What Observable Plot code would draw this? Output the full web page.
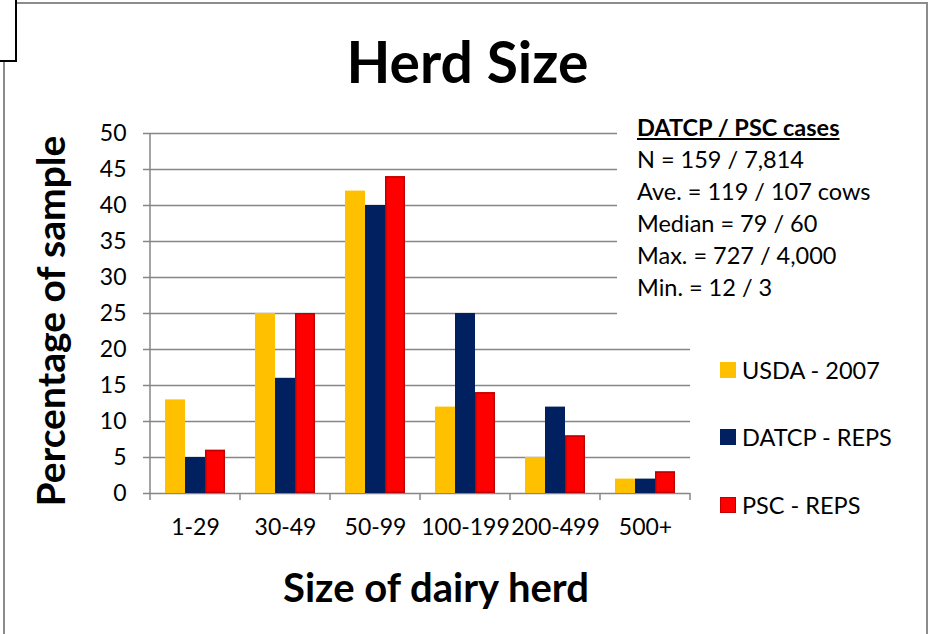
<!DOCTYPE html>
<html>
<head>
<meta charset="utf-8">
<script src="https://cdn.jsdelivr.net/npm/d3@7"></script>
<script src="https://cdn.jsdelivr.net/npm/@observablehq/plot@0.6"></script>
<style>
  html, body { margin: 0; padding: 0; background: #fff; }
  #wrap { position: relative; width: 931px; height: 634px; overflow: hidden; font-family: Lato, "Open Sans", sans-serif; color: #000; }
  #wrap svg { position: absolute; left: 0; top: 0; }
  .abs { position: absolute; white-space: nowrap; }
  #border { position: absolute; left: 3px; top: 2px; width: 925px; height: 640px; border: 2px solid #8c8c8c; box-sizing: border-box; }
  #corner { position: absolute; left: -2px; top: -2px; width: 19px; height: 64px; border: 2px solid #000; background: #fff; box-sizing: border-box; }
  #title { left: 0; width: 935px; top: 33px; text-align: center; font-weight: 700; font-size: 57px; line-height: 1; }
  #ylab { left: 50px; top: 321px; transform: translate(-50%, -50%) rotate(-90deg); font-weight: 700; font-size: 39px; }
  #xlab { left: 436px; top: 587px; transform: translate(-50%, -50%); font-weight: 700; font-size: 40px; }
  #note { left: 617px; top: 111px; width: 295px; height: 209px; background: #fff; padding-left: 20px; box-sizing: border-box; font-size: 23.5px; line-height: 32px; }
  #note .h { font-weight: 700; text-decoration: underline; }
  #legend { left: 720px; top: 336px; font-size: 23.5px; }
  .item { display: flex; align-items: center; height: 67.5px; }
  .sw { width: 16px; height: 16px; margin-right: 6px; box-sizing: border-box; }
</style>
</head>
<body>
<div id="wrap">
  <div id="border"></div>
  <div id="corner"></div>
  <div id="chart"></div>
  <div class="abs" id="title">Herd Size</div>
  <div class="abs" id="ylab">Percentage of sample</div>
  <div class="abs" id="xlab">Size of dairy herd</div>
  <div class="abs" id="note"></div>
  <div class="abs" id="legend"></div>
</div>
<script>
// ---- data ----
const categories = ["1-29", "30-49", "50-99", "100-199", "200-499", "500+"];
const seriesNames = ["USDA - 2007", "DATCP - REPS", "PSC - REPS"];
const usda  = [13, 25, 42, 12, 5, 2];
const datcp = [5, 16, 40, 25, 12, 2];
const psc   = [6, 25, 44, 14, 8, 3];
const colors = ["#FFC000", "#002060", "#FF0000"];
const yTicks = [0, 5, 10, 15, 20, 25, 30, 35, 40, 45, 50];
const noteTitle = "DATCP / PSC cases";
const noteLines = ["N = 159 / 7,814", "Ave. = 119 / 107 cows", "Median = 79 / 60", "Max. = 727 / 4,000", "Min. = 12 / 3"];

const seriesValues = [usda, datcp, psc];
const rows = [];
categories.forEach((c, i) => seriesNames.forEach((s, j) => rows.push({cat: c, series: s, value: seriesValues[j][i]})));
const cats = categories.map((c, i) => ({cat: c, i}));

const axisGray = "#868686";

const boundaryTicks = Plot.ruleY(cats, {
  fx: "cat", y: () => 0,
  render(index, scales, values, dimensions) {
    const g = d3.create("svg:g").attr("stroke", axisGray).attr("stroke-width", 1.5);
    if (!index.length) return g.node();
    const [r0, r1] = scales.x.range();
    const y0 = scales.y(0), yTop = scales.y(50);
    for (const i of index) {
      g.append("line").attr("x1", r0).attr("x2", r0).attr("y1", y0).attr("y2", y0 + 7);
      if (i === cats.length - 1) g.append("line").attr("x1", r1).attr("x2", r1).attr("y1", y0).attr("y2", y0 + 7);
      if (i === 0) g.append("line").attr("x1", r0).attr("x2", r0).attr("y1", y0).attr("y2", yTop);
    }
    return g.node();
  }
});

const plot = Plot.plot({
  width: 931,
  height: 634,
  marginLeft: 148,
  marginRight: 239,
  marginTop: 133,
  marginBottom: 141,
  style: {fontFamily: "Lato, 'Open Sans', sans-serif", fontSize: "23px", color: "#000", background: "transparent", overflow: "visible"},
  fx: {domain: categories, padding: 0, label: null, axis: "bottom", tickSize: 0, tickPadding: 25},
  x: {domain: seriesNames, paddingInner: 0, paddingOuter: 0.75, axis: null},
  y: {domain: [0, 50], ticks: yTicks, label: null, tickSize: 7, tickPadding: 17},
  color: {domain: seriesNames, range: colors},
  marks: [
    Plot.ruleY(yTicks, {stroke: axisGray, strokeWidth: 1.5}),
    Plot.barY(rows, {fx: "cat", x: "series", y: "value", fill: "series"}),
    Plot.barY(rows.filter(d => d.series === "PSC - REPS"), {fx: "cat", x: "series", y: "value", fill: "none", stroke: "#C00000", strokeWidth: 1.5, inset: 0.75}),
    boundaryTicks
  ]
});
d3.select(plot).selectAll("g[aria-label*='y-axis'] line, g[aria-label*='y-axis'] path").attr("stroke", axisGray).attr("stroke-width", 1.5);
document.getElementById("chart").append(plot);

// annotation
const note = d3.select("#note");
note.append("div").attr("class", "h").text(noteTitle);
noteLines.forEach(t => note.append("div").text(t));

// legend
const lg = d3.select("#legend");
seriesNames.forEach((s, i) => {
  const it = lg.append("div").attr("class", "item");
  it.append("div").attr("class", "sw").style("background", colors[i]).style("border", i === 2 ? "1.5px solid #C00000" : "none");
  it.append("span").text(s);
});
</script>
</body>
</html>
